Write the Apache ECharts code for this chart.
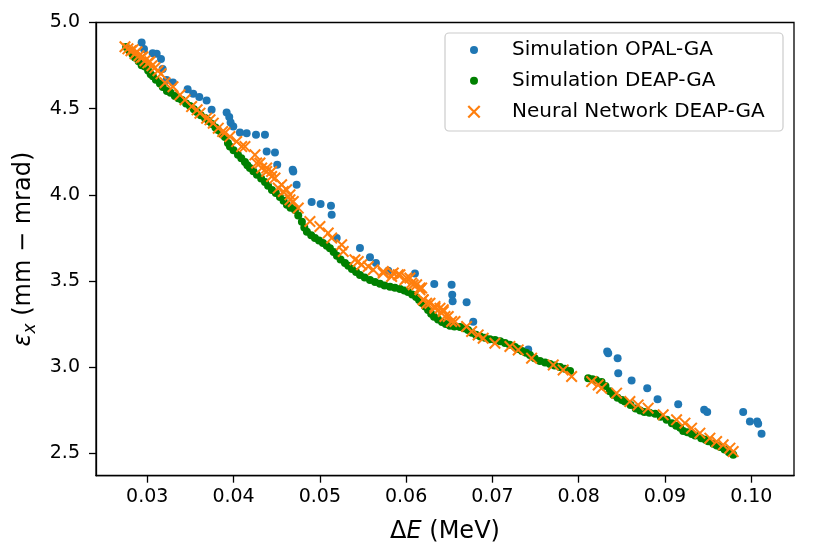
<!DOCTYPE html>
<html lang="en">
<head>
  <meta charset="UTF-8">
  <title>Emittance vs energy spread</title>
  <style>
    html, body { margin: 0; padding: 0; background: #fff; }
    #chart { width: 816px; height: 559px; }
  </style>
</head>
<body>
  <div id="chart"></div>
  <script src="https://cdn.jsdelivr.net/npm/echarts@6/dist/echarts.min.js"></script>
  <script>
    // tick values
    const xTicks = [0.03, 0.04, 0.05, 0.06, 0.07, 0.08, 0.09, 0.10]
    const yTicks = [2.5, 3.0, 3.5, 4.0, 4.5, 5.0]

    // Simulation OPAL-GA
    const opalX = [0.02935, 0.02962, 0.03063, 0.03109, 0.03159, 0.03178, 0.03225, 0.03298, 0.03468, 0.03533,
      0.03603, 0.03688, 0.03746, 0.0392, 0.0395, 0.03966, 0.03997, 0.04074, 0.04152, 0.0426,
      0.04364, 0.04384, 0.0448, 0.04506, 0.04685, 0.04692, 0.04731, 0.04905, 0.05009, 0.05129,
      0.05137, 0.05195, 0.05465, 0.05581, 0.0565, 0.05793, 0.06102, 0.06326, 0.06527, 0.06534,
      0.06539, 0.06701, 0.06778, 0.07415, 0.0833, 0.08342, 0.08451, 0.08458, 0.08613, 0.08794,
      0.08914, 0.09153, 0.09454, 0.09489, 0.09906, 0.09984, 0.10068, 0.1008, 0.10119]
    const opalY = [4.884, 4.846, 4.822, 4.818, 4.788, 4.730, 4.667, 4.652, 4.613, 4.586,
      4.567, 4.547, 4.493, 4.478, 4.451, 4.420, 4.396, 4.362, 4.358, 4.348,
      4.348, 4.251, 4.246, 4.174, 4.145, 4.135, 4.058, 3.958, 3.946, 3.936,
      3.884, 3.749, 3.691, 3.637, 3.604, 3.559, 3.544, 3.482, 3.478, 3.420,
      3.382, 3.377, 3.263, 3.102, 3.091, 3.081, 3.052, 2.965, 2.922, 2.878,
      2.814, 2.785, 2.752, 2.739, 2.739, 2.684, 2.684, 2.671, 2.613]

    // Simulation DEAP-GA
    const deapX = [0.02755, 0.0279, 0.0283, 0.02857, 0.029, 0.02935, 0.02973, 0.0301, 0.0304, 0.03066,
      0.031, 0.03147, 0.0318, 0.03228, 0.0327, 0.0332, 0.0336, 0.03402, 0.0345, 0.03495,
      0.0354, 0.03576, 0.0362, 0.03669, 0.0371, 0.0375, 0.0379, 0.03819, 0.0386, 0.039,
      0.03935, 0.03958, 0.04, 0.04051, 0.0409, 0.04132, 0.0416, 0.0419, 0.0423, 0.04271,
      0.0432, 0.04364, 0.044, 0.04445, 0.0449, 0.04538, 0.0458, 0.04619, 0.0466, 0.04712,
      0.0475, 0.04792, 0.0482, 0.0485, 0.049, 0.04943, 0.0499, 0.05036, 0.0508, 0.05117,
      0.0516, 0.05198, 0.0524, 0.05291, 0.0533, 0.05372, 0.0542, 0.05465, 0.0552, 0.05581,
      0.0564, 0.05697, 0.0575, 0.05813, 0.0587, 0.05929, 0.0598, 0.06022, 0.0607, 0.06115,
      0.0615, 0.06184, 0.0622, 0.06254, 0.0629, 0.06323, 0.0637, 0.06416, 0.0646, 0.06508,
      0.0656, 0.06624, 0.0667, 0.06717, 0.0676, 0.06809, 0.0686, 0.06913, 0.0697, 0.0703,
      0.0709, 0.07146, 0.072, 0.07262, 0.073, 0.07343, 0.0739, 0.07435, 0.0749, 0.07551,
      0.0761, 0.07667, 0.0772, 0.07783, 0.0784, 0.079, 0.0811, 0.0816, 0.082, 0.08265,
      0.0831, 0.0836, 0.084, 0.0845, 0.085, 0.08535, 0.086, 0.0866, 0.08712, 0.0876,
      0.0882, 0.08886, 0.0895, 0.09019, 0.0908, 0.0913, 0.09176, 0.09211, 0.0926, 0.0931,
      0.0935, 0.0942, 0.0947, 0.09501, 0.0956, 0.096, 0.0964, 0.0969, 0.0974, 0.09791]
    const deapY = [4.858, 4.838, 4.815, 4.797, 4.775, 4.752, 4.745, 4.722, 4.700, 4.688,
      4.668, 4.646, 4.625, 4.603, 4.592, 4.574, 4.560, 4.550, 4.530, 4.515,
      4.497, 4.481, 4.462, 4.446, 4.428, 4.411, 4.390, 4.376, 4.356, 4.336,
      4.300, 4.280, 4.258, 4.232, 4.212, 4.191, 4.172, 4.156, 4.137, 4.116,
      4.094, 4.075, 4.052, 4.028, 4.010, 3.988, 3.965, 3.942, 3.925, 3.912,
      3.880, 3.843, 3.810, 3.785, 3.765, 3.750, 3.735, 3.720, 3.705, 3.690,
      3.668, 3.646, 3.625, 3.604, 3.588, 3.570, 3.552, 3.535, 3.520, 3.506,
      3.494, 3.484, 3.474, 3.466, 3.460, 3.454, 3.445, 3.436, 3.422, 3.407,
      3.390, 3.372, 3.352, 3.332, 3.310, 3.292, 3.276, 3.262, 3.250, 3.240,
      3.236, 3.233, 3.225, 3.216, 3.200, 3.188, 3.178, 3.170, 3.162, 3.157,
      3.150, 3.140, 3.130, 3.117, 3.105, 3.094, 3.083, 3.070, 3.052, 3.036,
      3.027, 3.018, 3.010, 3.001, 2.990, 2.978, 2.936, 2.930, 2.925, 2.914,
      2.890, 2.860, 2.840, 2.822, 2.810, 2.800, 2.780, 2.760, 2.748, 2.740,
      2.735, 2.730, 2.712, 2.694, 2.675, 2.660, 2.648, 2.630, 2.622, 2.612,
      2.604, 2.588, 2.578, 2.570, 2.555, 2.545, 2.536, 2.522, 2.506, 2.492]

    // Neural Network DEAP-GA
    const nnX = [0.02742, 0.02776, 0.02811, 0.02834, 0.02858, 0.02881, 0.02904, 0.02927, 0.0295, 0.02973,
      0.03008, 0.03031, 0.03054, 0.03089, 0.03124, 0.03159, 0.03206, 0.03298, 0.03379, 0.03514,
      0.03611, 0.03688, 0.03765, 0.03823, 0.03874, 0.03958, 0.04036, 0.04094, 0.04268, 0.04326,
      0.04384, 0.04441, 0.04518, 0.04576, 0.04654, 0.04885, 0.05001, 0.05097, 0.05137, 0.05253,
      0.05271, 0.05407, 0.05445, 0.05484, 0.05561, 0.05619, 0.05735, 0.05832, 0.05908, 0.05986,
      0.06044, 0.06082, 0.06122, 0.0616, 0.0618, 0.06198, 0.06238, 0.06334, 0.06392, 0.0643,
      0.06488, 0.06566, 0.06701, 0.06759, 0.06835, 0.06893, 0.07029, 0.07203, 0.07299, 0.07454,
      0.07705, 0.0782, 0.07918, 0.0815, 0.08226, 0.08265, 0.08439, 0.08593, 0.08689, 0.08805,
      0.08979, 0.09134, 0.09231, 0.09308, 0.09404, 0.0952, 0.09598, 0.09674, 0.09752, 0.0979,
      0.04132, 0.04248, 0.04306, 0.04384, 0.04441, 0.0448, 0.04557, 0.04615, 0.04654, 0.04692,
      0.0475, 0.05735, 0.05851, 0.05928, 0.06006, 0.06064, 0.0616, 0.06198, 0.06276, 0.06334,
      0.0643, 0.0645, 0.06527, 0.03438, 0.03578, 0.03727, 0.03901]
    const nnY = [4.859, 4.847, 4.836, 4.842, 4.818, 4.830, 4.807, 4.795, 4.801, 4.778,
      4.766, 4.772, 4.749, 4.737, 4.720, 4.702, 4.650, 4.627, 4.580, 4.512,
      4.474, 4.445, 4.416, 4.387, 4.367, 4.338, 4.309, 4.280, 4.184, 4.155,
      4.135, 4.106, 4.039, 4.019, 3.971, 3.845, 3.816, 3.778, 3.749, 3.710,
      3.671, 3.623, 3.613, 3.594, 3.584, 3.565, 3.546, 3.526, 3.536, 3.507,
      3.517, 3.478, 3.478, 3.449, 3.459, 3.391, 3.371, 3.352, 3.342, 3.323,
      3.294, 3.265, 3.236, 3.207, 3.187, 3.168, 3.139, 3.120, 3.100, 3.052,
      3.013, 2.984, 2.946, 2.916, 2.897, 2.878, 2.849, 2.800, 2.781, 2.762,
      2.723, 2.694, 2.675, 2.646, 2.617, 2.588, 2.568, 2.549, 2.530, 2.510,
      4.280, 4.232, 4.184, 4.155, 4.135, 4.097, 4.058, 4.029, 4.000, 3.961,
      3.923, 3.555, 3.546, 3.536, 3.517, 3.488, 3.459, 3.391, 3.371, 3.342,
      3.333, 3.294, 3.265, 4.551, 4.493, 4.435, 4.360]

    const font = 'DejaVu Sans'
    const zip = (xs, ys) => xs.map((x, i) => [x, ys[i]])
    const cross = 'path://M0,1.2L1.2,0L10,8.8L8.8,10ZM8.8,0L10,1.2L1.2,10L0,8.8Z'

    const chart = echarts.init(document.getElementById('chart'))

    function legendItem (name, top, size, pad) {
      return {
        data: [name],
        left: 474 - size / 2,
        top: top,
        padding: 0,
        itemWidth: size,
        itemHeight: size,
        selectedMode: false,
        textStyle: { fontFamily: font, fontSize: 20, color: '#000', lineHeight: 20, padding: [0, 0, 0, pad] }
      }
    }

    chart.setOption({
      animation: false,
      grid: {
        left: 96, right: 22, top: 22.5, bottom: 83.3,
        show: true, borderColor: '#000', borderWidth: 1.3
      },
      graphic: [{
        type: 'rect', z: 3,
        shape: { x: 445, y: 33, width: 338, height: 98, r: 4 },
        style: { fill: 'rgba(255,255,255,0.8)', stroke: '#cccccc', lineWidth: 1.2 }
      }],
      legend: [
        legendItem('Simulation OPAL-GA', 40, 8, 29),
        legendItem('Simulation DEAP-GA', 70.7, 8, 29),
        legendItem('Neural Network DEAP-GA', 101.7, 13, 26.5)
      ],
      xAxis: {
        type: 'value',
        min: 0.02406, max: 0.10495,
        name: '{d|Δ}{e|E}{n| (MeV)}',
        nameLocation: 'middle',
        nameGap: 44,
        nameTextStyle: {
          fontFamily: font, fontSize: 24, color: '#000',
          rich: {
            d: { fontFamily: font, fontSize: 24, color: '#000' },
            e: { fontFamily: font, fontSize: 24, color: '#000', fontStyle: 'italic' },
            n: { fontFamily: font, fontSize: 24, color: '#000' }
          }
        },
        splitLine: { show: false },
        axisLine: { onZero: false, lineStyle: { color: '#000', width: 1.3 } },
        axisTick: { show: true, length: 7, lineStyle: { color: '#000', width: 1.3 }, customValues: xTicks },
        axisLabel: {
          fontFamily: font, fontSize: 19, color: '#000', margin: 12,
          customValues: xTicks,
          formatter: v => v.toFixed(2)
        }
      },
      yAxis: {
        type: 'value',
        min: 2.37, max: 5.0,
        name: '{e|ε}{s|x}{n| (mm − mrad)}',
        nameLocation: 'middle',
        nameGap: 56,
        nameTextStyle: {
          fontFamily: font, fontSize: 24, color: '#000',
          rich: {
            e: { fontFamily: font, fontSize: 24, color: '#000', fontStyle: 'italic', lineHeight: 30 },
            s: { fontFamily: font, fontSize: 17, color: '#000', fontStyle: 'italic', lineHeight: 17, verticalAlign: 'bottom' },
            n: { fontFamily: font, fontSize: 24, color: '#000', lineHeight: 30 }
          }
        },
        splitLine: { show: false },
        axisLine: { onZero: false, lineStyle: { color: '#000', width: 1.3 } },
        axisTick: { show: true, length: 7, lineStyle: { color: '#000', width: 1.3 }, customValues: yTicks },
        axisLabel: {
          fontFamily: font, fontSize: 19, color: '#000', margin: 16,
          customValues: yTicks,
          formatter: v => v.toFixed(1)
        }
      },
      series: [
        {
          name: 'Simulation OPAL-GA', type: 'scatter', symbol: 'circle', symbolSize: 8,
          itemStyle: { color: '#1f77b4', opacity: 1 },
          data: zip(opalX, opalY)
        },
        {
          name: 'Simulation DEAP-GA', type: 'scatter', symbol: 'circle', symbolSize: 8,
          itemStyle: { color: '#008000', opacity: 1 },
          data: zip(deapX, deapY)
        },
        {
          name: 'Neural Network DEAP-GA', type: 'scatter', symbol: cross, symbolSize: 12,
          itemStyle: { color: '#ff7f0e', opacity: 1 },
          data: zip(nnX, nnY)
        }
      ]
    })
  </script>
</body>
</html>
